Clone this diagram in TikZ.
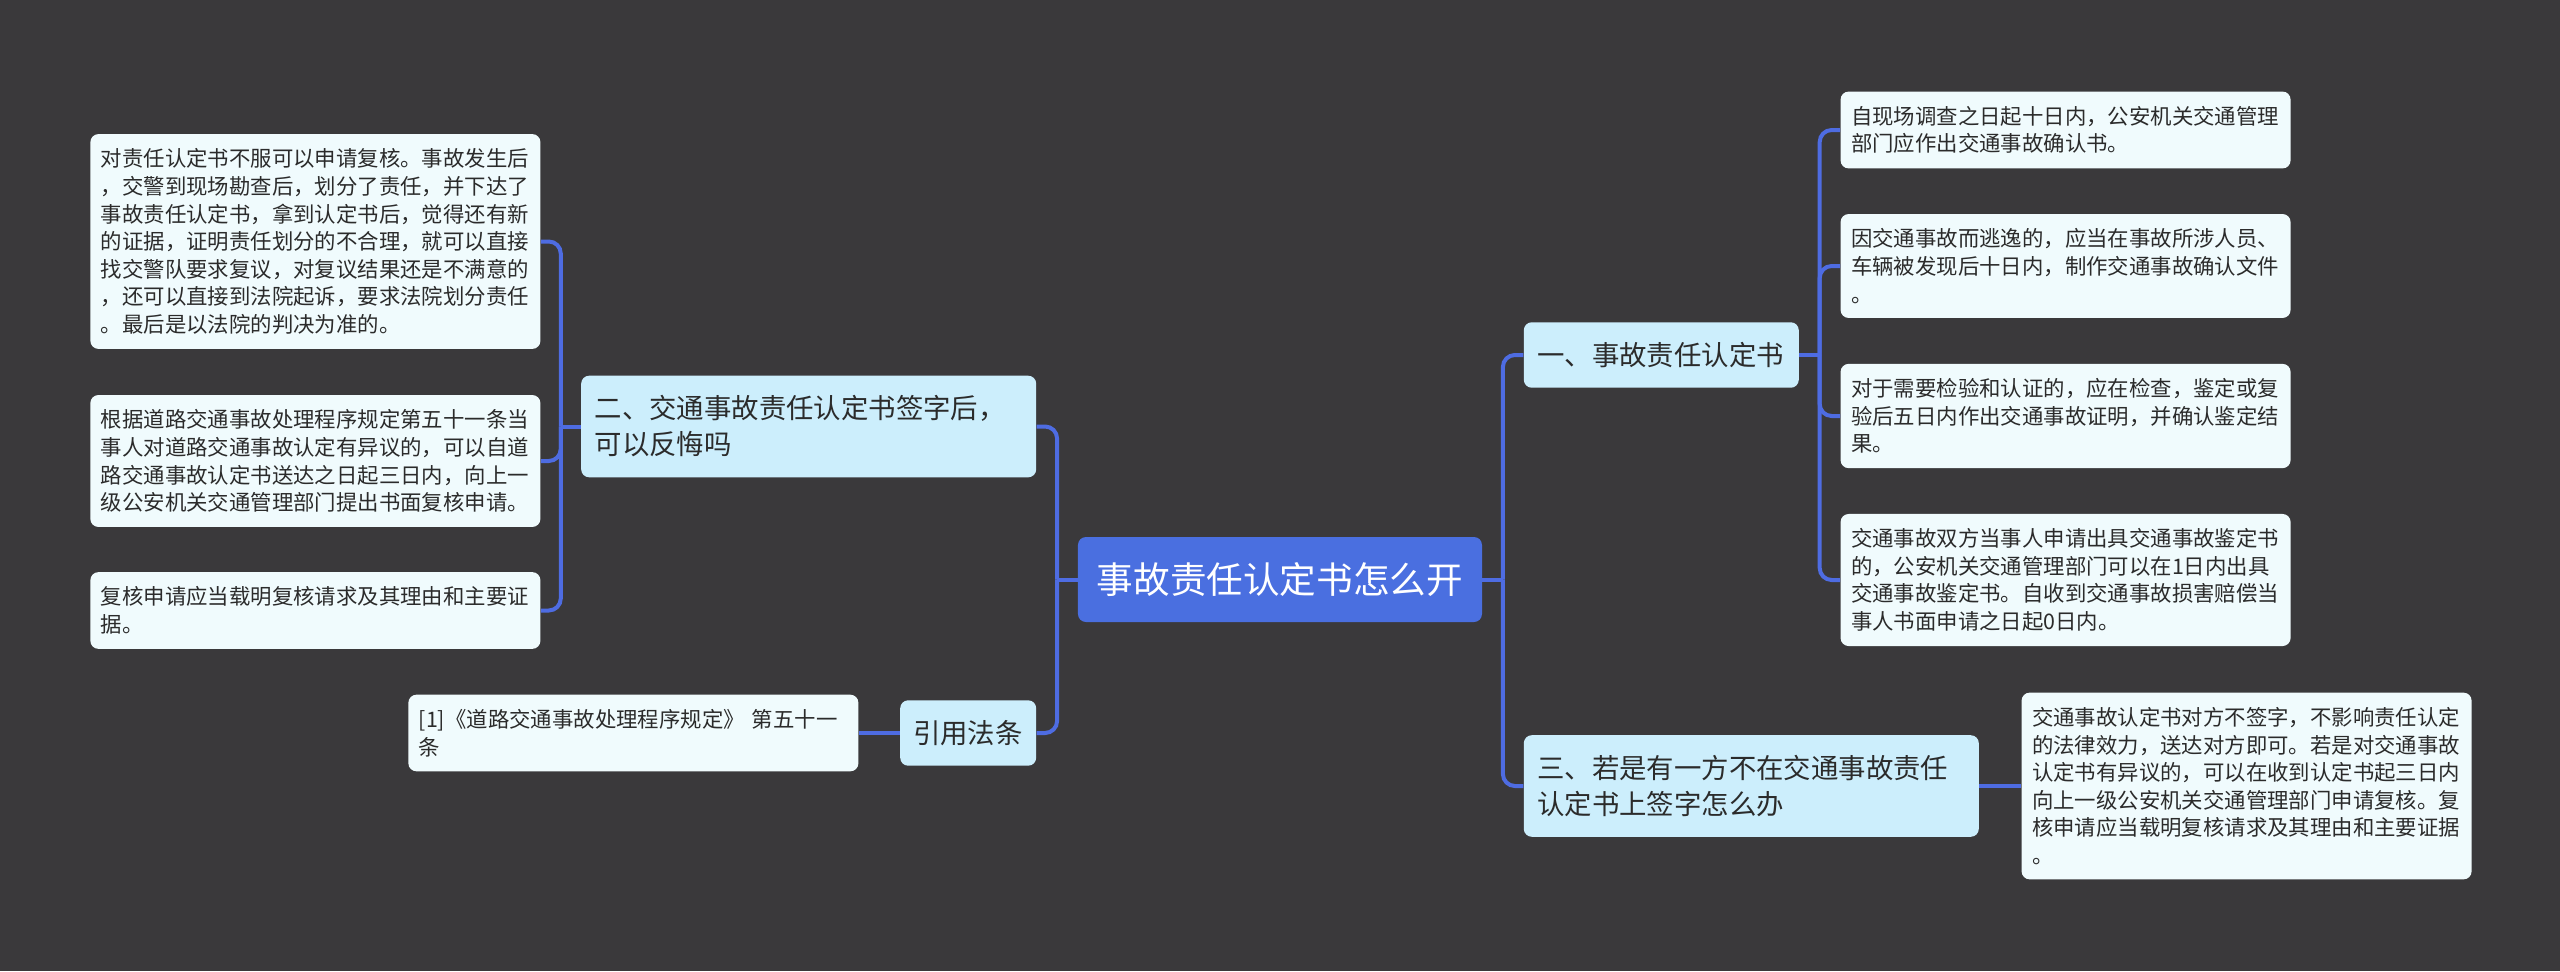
\documentclass[tikz,border=0pt]{standalone}
\usepackage{fontspec}
\setmainfont{Noto Sans CJK SC}
\usetikzlibrary{positioning}
\definecolor{canvas}{HTML}{3A393B}
\definecolor{rootfill}{HTML}{4A6FE0}
\definecolor{topicfill}{HTML}{CCEEFC}
\definecolor{leaffill}{HTML}{F0FBFD}
\definecolor{ink}{HTML}{2B2B2B}
\definecolor{wire}{HTML}{4E6CE2}
\tikzset{
  rootbox/.style={fill=rootfill, rounded corners=4pt, text=white, minimum width=202pt, minimum height=42.5pt, inner sep=0pt,
    font=\fontsize{18.3pt}{22pt}\selectfont},
  topic/.style={fill=topicfill, rounded corners=4pt, text=ink, align=left, inner xsep=6.75pt, inner ysep=10pt,
    font=\fontsize{13.7pt}{18pt}\selectfont},
  leaf/.style={fill=leaffill, rounded corners=4pt, text=ink, align=left, text width=214.5pt, inner xsep=5.25pt, inner ysep=7.3pt,
    font=\fontsize{10.7pt}{13.8pt}\selectfont},
  link/.style={draw=wire, line width=2pt, rounded corners=6pt},
}

\begin{document}
\begin{tikzpicture}
    \fill[canvas] (-640pt,-195.75pt) rectangle (640pt,289.75pt);
    \useasboundingbox (-640pt,-195.75pt) rectangle (640pt,289.75pt);
    \node[rootbox] (root) at (0,0) {事故责任认定书怎么开};
    % right side
    \node[topic, text width=124pt, right=20.5pt of root, yshift=112.25pt] (s1) {一、事故责任认定书};
    \node[topic, text width=214pt, right=20.5pt of root, yshift=-103.25pt] (s3) {三、若是有一方不在交通事故责任\\认定书上签字怎么办};
    \node[leaf, right=20.5pt of s1, yshift=112.5pt] (a1) {自现场调查之日起十日内，公安机关交通管理\\部门应作出交通事故确认书。};
    \node[leaf, right=20.5pt of s1, yshift=44.5pt] (a2) {因交通事故而逃逸的，应当在事故所涉人员、\\车辆被发现后十日内，制作交通事故确认文件\\。};
    \node[leaf, right=20.5pt of s1, yshift=-30.5pt] (a3) {对于需要检验和认证的，应在检查，鉴定或复\\验后五日内作出交通事故证明，并确认鉴定结\\果。};
    \node[leaf, right=20.5pt of s1, yshift=-112.5pt] (a4) {交通事故双方当事人申请出具交通事故鉴定书\\的，公安机关交通管理部门可以在1日内出具\\交通事故鉴定书。自收到交通事故损害赔偿当\\事人书面申请之日起0日内。};
    \node[leaf, right=21pt of s3] (e1) {交通事故认定书对方不签字，不影响责任认定\\的法律效力，送达对方即可。若是对交通事故\\认定书有异议的，可以在收到认定书起三日内\\向上一级公安机关交通管理部门申请复核。复\\核申请应当载明复核请求及其理由和主要证据\\。};
    % left side
    \node[topic, text width=214pt, left=20.5pt of root, yshift=76.5pt] (s2) {二、交通事故责任认定书签字后，\\可以反悔吗};
    \node[topic, text width=55pt, inner xsep=6.5pt, left=20.5pt of root, yshift=-76.75pt] (cite) {引用法条};
    \node[leaf, left=20pt of s2, yshift=92.5pt] (c1) {对责任认定书不服可以申请复核。事故发生后\\，交警到现场勘查后，划分了责任，并下达了\\事故责任认定书，拿到认定书后，觉得还有新\\的证据，证明责任划分的不合理，就可以直接\\找交警队要求复议，对复议结果还是不满意的\\，还可以直接到法院起诉，要求法院划分责任\\。最后是以法院的判决为准的。};
    \node[leaf, left=20pt of s2, yshift=-17.25pt] (c2) {根据道路交通事故处理程序规定第五十一条当\\事人对道路交通事故认定有异议的，可以自道\\路交通事故认定书送达之日起三日内，向上一\\级公安机关交通管理部门提出书面复核申请。};
    \node[leaf, left=20pt of s2, yshift=-92pt] (c3) {复核申请应当载明复核请求及其理由和主要证\\据。};
    \node[leaf, left=20.5pt of cite] (d1) {[1]《道路交通事故处理程序规定》 第五十一\\条};
    % connectors
    \draw[link] (root.east) -- ++(10.25pt,0) coordinate (rr);
    \draw[link] (rr) |- (s1.west); \draw[link] (rr) |- (s3.west);
    \draw[link] (root.west) -- ++(-10.25pt,0) coordinate (rl);
    \draw[link] (rl) |- (s2.east); \draw[link] (rl) |- (cite.east);
    \draw[link] (s1.east) -- ++(10.25pt,0) coordinate (j1);
    \foreach \n in {a1,a2,a3,a4} \draw[link] (j1) |- (\n.west);
    \draw[link] (s2.west) -- ++(-10pt,0) coordinate (j2);
    \foreach \n in {c1,c2,c3} \draw[link] (j2) |- (\n.east);
    \draw[link] (s3.east) -- (e1.west);
    \draw[link] (cite.west) -- (d1.east);
\end{tikzpicture}
\end{document}
